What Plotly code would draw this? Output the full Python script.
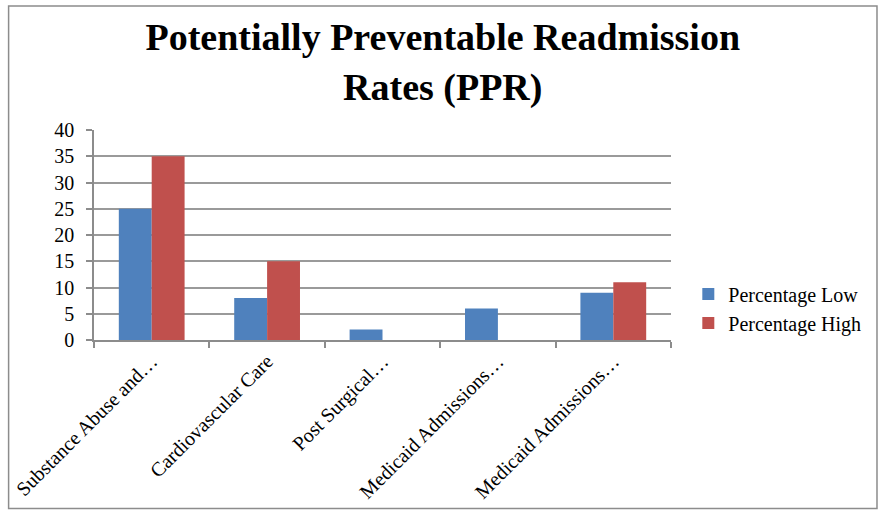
import plotly.graph_objects as go

categories = ["Substance Abuse and…", "Cardiovascular Care", "Post Surgical…",
              "Medicaid Admissions…", "Medicaid Admissions…"]
pct_low = [25, 8, 2, 6, 9]
pct_high = [35, 15, 0, 0, 11]
y_ticks = [0, 5, 10, 15, 20, 25, 30, 35, 40]

x_idx = list(range(len(categories)))
FONT = "Liberation Serif"

fig = go.Figure()
fig.add_trace(go.Bar(x=x_idx, y=pct_low, name="Percentage Low",
                     marker=dict(color="#4F81BD", line=dict(width=0))))
fig.add_trace(go.Bar(x=x_idx, y=pct_high, name="Percentage High",
                     marker=dict(color="#C0504D", line=dict(width=0))))

fig.update_layout(
    width=882, height=515,
    paper_bgcolor="white", plot_bgcolor="white",
    margin=dict(l=91, r=211, t=130, b=173),
    barmode="group", bargap=0.43, bargroupgap=0,
    font=dict(family=FONT, size=20, color="black"),
    title=dict(text="<b>Potentially Preventable Readmission<br>Rates (PPR)</b>",
               x=0.502, xanchor="center", xref="container",
               y=0.902, yanchor="top", yref="container",
               font=dict(family=FONT, size=38, color="black")),
    legend=dict(x=1.03, xanchor="left", y=0.15, yanchor="middle",
                font=dict(family=FONT, size=20),
                itemsizing="constant", bgcolor="rgba(0,0,0,0)"),
    showlegend=True,
)
fig.update_xaxes(
    range=[-0.5, len(categories) - 0.5],
    tickmode="array", tickvals=x_idx, ticktext=categories,
    tickangle=-45, ticks="", showgrid=False,
    showline=True, linecolor="#8C8C8C", linewidth=1.5,
    tickfont=dict(family=FONT, size=20),
    minor=dict(tickvals=[i - 0.5 for i in range(len(categories) + 1)],
               ticks="outside", ticklen=6, tickcolor="#8C8C8C", tickwidth=1.5,
               showgrid=False),
    zeroline=False,
)
fig.update_yaxes(
    range=[0, 40], tickmode="array", tickvals=y_ticks,
    showgrid=True, gridcolor="#9A9A9A", gridwidth=1.5,
    showline=True, linecolor="#8C8C8C", linewidth=1.5,
    ticks="outside", ticklen=6, tickcolor="#8C8C8C", tickwidth=1.5,
    ticklabelstandoff=8,
    tickfont=dict(family=FONT, size=20), zeroline=False,
)
# outer chart border
fig.add_shape(type="rect", xref="paper", yref="paper",
              x0=-0.148, x1=1.357, y0=-0.802, y1=1.590,
              line=dict(color="#8C8C8C", width=1.5), fillcolor="rgba(0,0,0,0)",
              layer="below")

fig.write_html("out.html", config={"displayModeBar": False},
               post_script="document.body.style.margin='0';document.body.style.overflow='hidden';")
